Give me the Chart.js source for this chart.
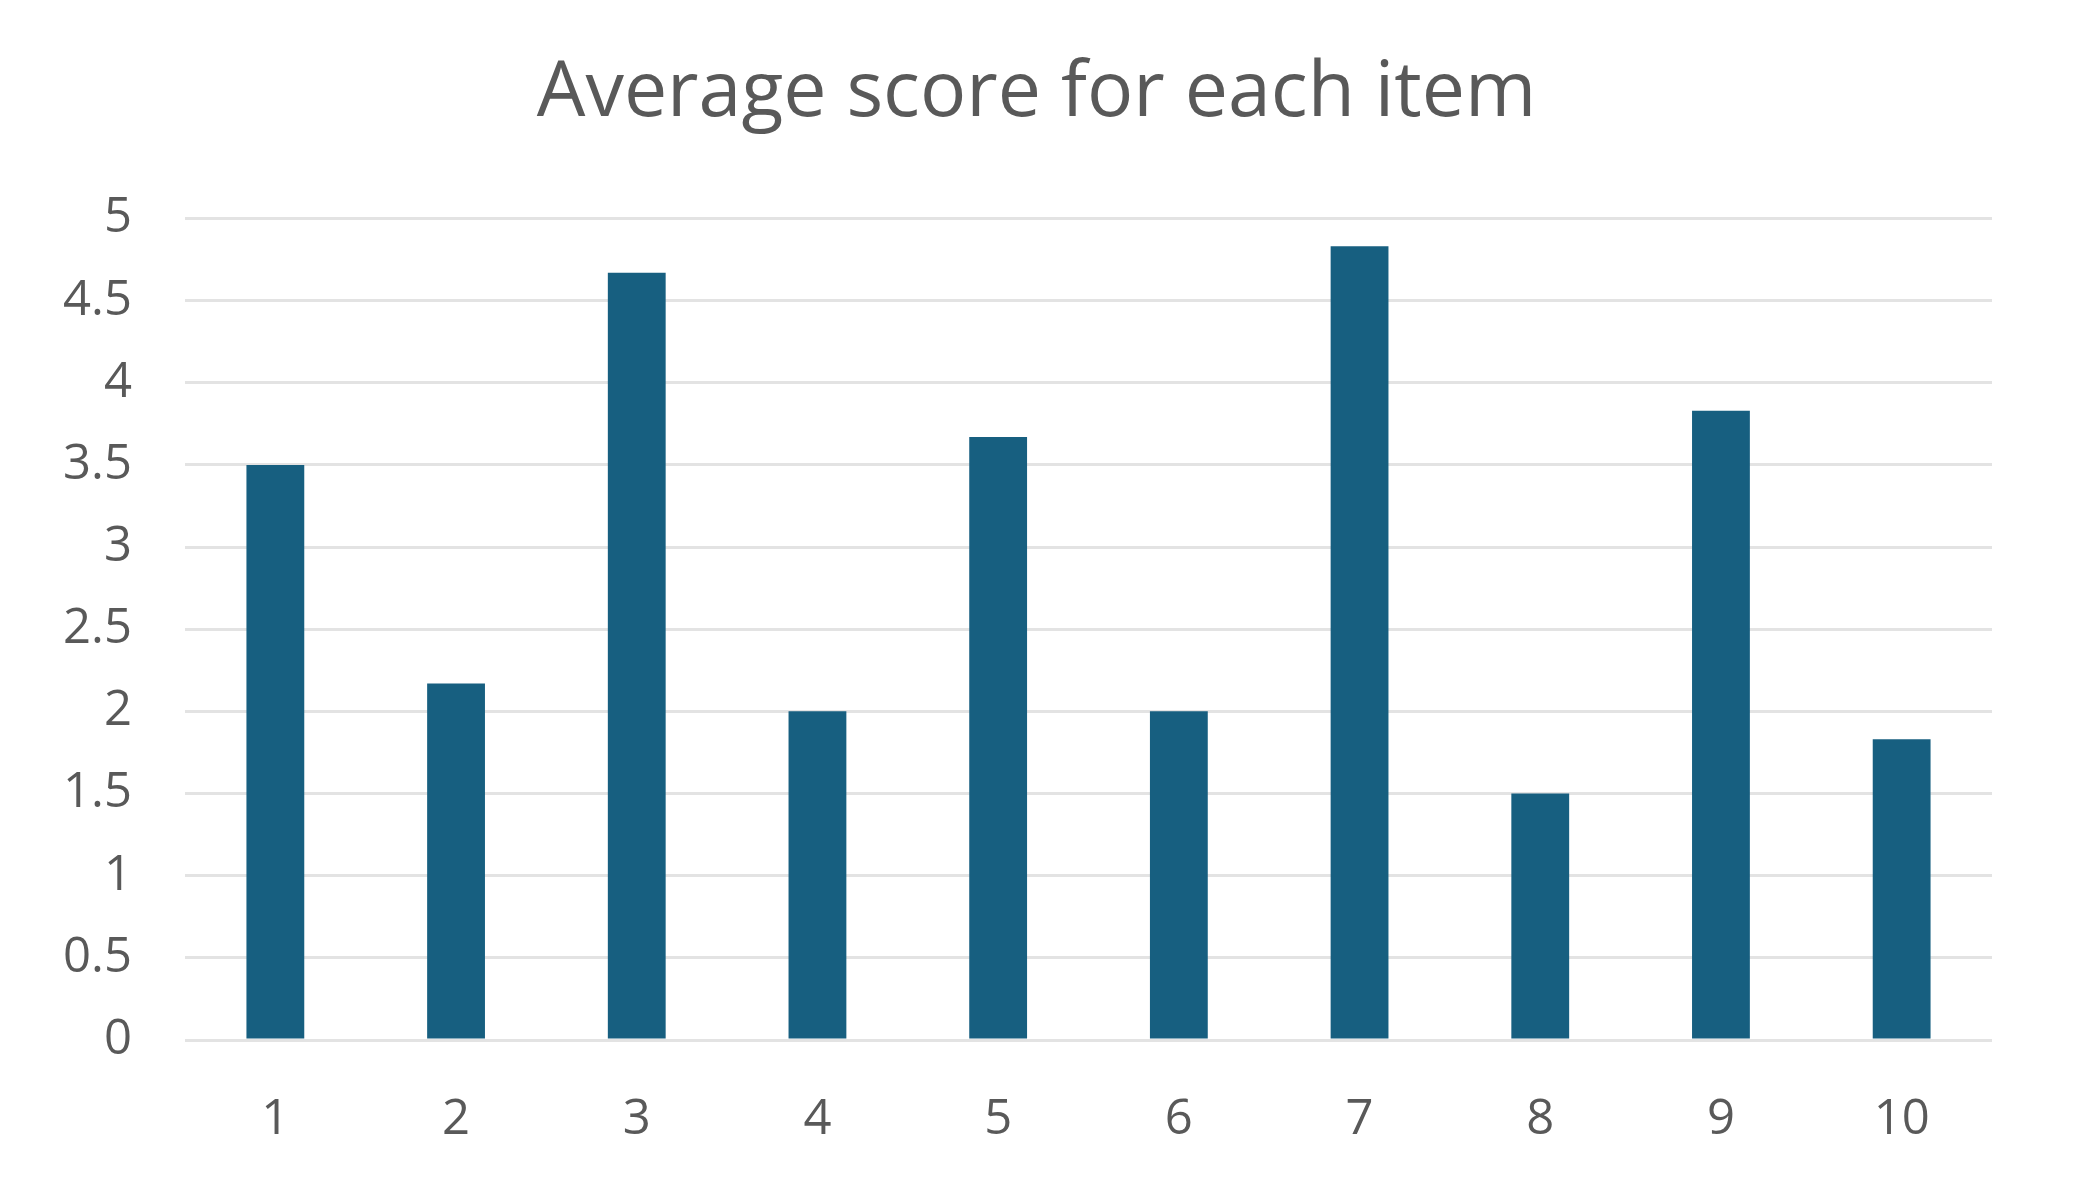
<!DOCTYPE html>
<html>
<head>
<meta charset="utf-8">
<script src="https://cdn.jsdelivr.net/npm/chart.js@4.4.1/dist/chart.umd.min.js"></script>
<style>
  html, body { margin: 0; padding: 0; background: #ffffff; }
  #wrap { width: 2073px; height: 1187px; position: relative; }
</style>
</head>
<body>
<div id="wrap"><canvas id="scoreChart"></canvas></div>
<script>
const titleText = "Average score for each item";
const items = ["1", "2", "3", "4", "5", "6", "7", "8", "9", "10"];
const averageScores = [3.5, 2.17, 4.67, 2.0, 3.67, 2.0, 4.83, 1.5, 3.83, 1.83];
const yTicks = [0, 0.5, 1, 1.5, 2, 2.5, 3, 3.5, 4, 4.5, 5];

const textColor = "#595959";
const fontFamily = "'Open Sans', 'Noto Sans', sans-serif";

function initChart() {
  const ctx = document.getElementById("scoreChart");

  new Chart(ctx, {
    type: "bar",
    data: {
      labels: items,
      datasets: [
        {
          label: "Average score",
          data: averageScores,
          backgroundColor: "#175f80",
          borderWidth: 0,
          barPercentage: 0.32,
          categoryPercentage: 1,
        },
      ],
    },
    options: {
      responsive: true,
      maintainAspectRatio: false,
      animation: false,
      layout: {
        padding: 0,
      },
      plugins: {
        legend: { display: false },
        tooltip: { enabled: false },
        title: {
          display: true,
          text: titleText,
          color: textColor,
          font: { family: fontFamily, size: 77, weight: "normal" },
          padding: { top: 48, bottom: 78 },
        },
      },
      scales: {
        x: {
          grid: { display: false, drawTicks: false },
          border: { display: false },
          ticks: {
            color: textColor,
            font: { family: fontFamily, size: 49 },
            padding: 51,
          },
          afterFit: (scale) => {
            scale.height = 147;
          },
        },
        y: {
          min: 0,
          max: 5,
          afterBuildTicks: (scale) => {
            scale.ticks = yTicks.map((v) => ({ value: v }));
          },
          grid: { color: "#e3e3e3", lineWidth: 3, drawTicks: false },
          border: { display: false },
          ticks: {
            color: textColor,
            font: { family: fontFamily, size: 49 },
            padding: 53,
            callback: (value) => `${value}`,
          },
          afterFit: (scale) => {
            scale.width = 185;
          },
        },
        // empty right-side axis, only keeps the right margin so the title stays centred on the page
        yRight: {
          position: "right",
          grid: { display: false, drawTicks: false },
          border: { display: false },
          ticks: { display: false },
          afterFit: (scale) => {
            scale.width = 81;
          },
        },
      },
    },
  });
}

initChart();
</script>
</body>
</html>
